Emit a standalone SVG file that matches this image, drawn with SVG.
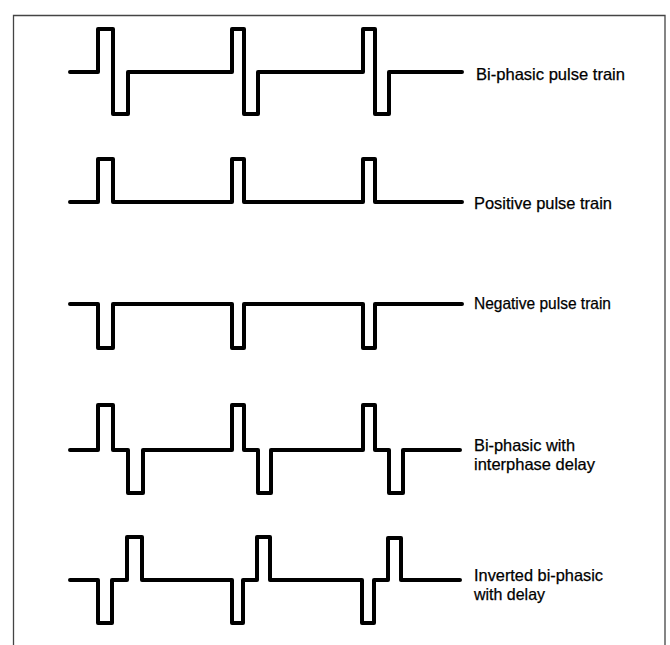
<svg xmlns="http://www.w3.org/2000/svg" width="670" height="645" viewBox="0 0 670 645">
<style>
.w{fill:none;stroke:#000;stroke-width:4;stroke-linejoin:round;stroke-linecap:round}
.frame{fill:none;stroke:#444;stroke-width:1.3}
.t{font-family:"Liberation Sans",Arial,sans-serif;font-size:16.5px;fill:#000;stroke:#000;stroke-width:0.25}
</style>
<rect width="670" height="645" fill="#fff"/>
<path class="frame" d="M13.5,645 V15.5 H665 V645"/>
<g id="connectors">
<path id="w1" class="w" d="M70,72 H98 V29 H113 V114 H128 V72 H232 V29 H244 V114 H258 V72 H363 V29 H375 V114 H389 V72 H462"/>
<path id="w2" class="w" d="M70,202 H98 V159 H113 V202 H232 V159 H244 V202 H363 V159 H375 V202 H462"/>
<path id="w3" class="w" d="M70,304 H98 V348 H113 V304 H232 V348 H244 V304 H363 V348 H375 V304 H462"/>
<path id="w4" class="w" d="M70,450 H98 V405 H113 V450 H128 V493 H143 V450 H232 V405 H244 V450 H258 V493 H271 V450 H363 V405 H375 V450 H389 V493 H403 V450 H460"/>
<path id="w5" class="w" d="M70,580 H98 V623 H112 V580 H127 V537 H142 V580 H232 V623 H243 V580 H257 V537 H270 V580 H362 V623 H374 V580 H388 V538 H401 V580 H460"/>
</g>
<g id="label1"><text class="t" x="476" y="80" textLength="149" lengthAdjust="spacingAndGlyphs">Bi-phasic pulse train</text></g>
<g id="label2"><text class="t" x="474" y="209" textLength="138" lengthAdjust="spacingAndGlyphs">Positive pulse train</text></g>
<g id="label3"><text class="t" x="474" y="309" textLength="137" lengthAdjust="spacingAndGlyphs">Negative pulse train</text></g>
<g id="label4"><text class="t" x="474" y="451" textLength="101" lengthAdjust="spacingAndGlyphs">Bi-phasic with</text><text class="t" x="474" y="470" textLength="121" lengthAdjust="spacingAndGlyphs">interphase delay</text></g>
<g id="label5"><text class="t" x="474" y="581" textLength="129" lengthAdjust="spacingAndGlyphs">Inverted bi-phasic</text><text class="t" x="474" y="600" textLength="71" lengthAdjust="spacingAndGlyphs">with delay</text></g>
</svg>
